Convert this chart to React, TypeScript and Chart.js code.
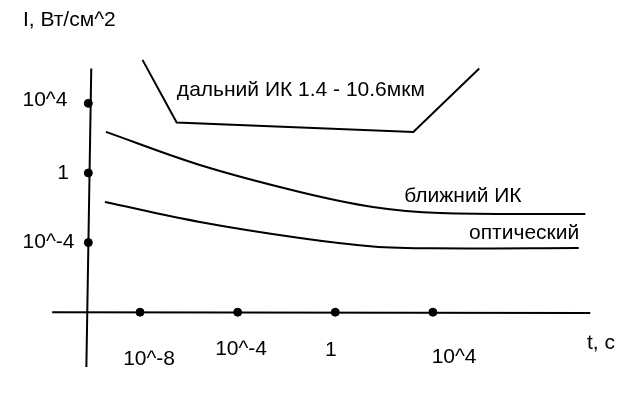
import React, { useEffect, useRef } from "react";
import { Chart, registerables } from "chart.js";

Chart.register(...registerables);

// Axis units: x = log10(t, c), y = log10(I, Вт/см^2)
const xTickValues = [-8, -4, 0, 4];
const xTickLabels = ["10^-8", "10^-4", "1", "10^4"];
const xTickLabelPos = [
  { x: -7.63, y: -10.69 },
  { x: -3.86, y: -10.11 },
  { x: -0.18, y: -10.17 },
  { x: 4.87, y: -10.57 },
];

const yTickValues = [4, 0, -4];
const yTickLabels = ["10^4", "1", "10^-4"];
const yTickLabelPos = [
  { x: -11.9, y: 4.2 },
  { x: -11.15, y: 0.0 },
  { x: -11.75, y: -4.0 },
];

const xAxisLine = [
  { x: -11.6, y: -8.0 },
  { x: 10.45, y: -8.05 },
];
const yAxisLine = [
  { x: -10.0, y: 6.0 },
  { x: -10.2, y: -11.15 },
];
const yAxisDotX = -10.12;
const xAxisDotY = -8.0;

const farIR = [
  { x: -7.9, y: 6.5 },
  { x: -6.5, y: 2.9 },
  { x: 3.2, y: 2.35 },
  { x: 5.9, y: 6.0 },
];

const nearIR = [
  { x: -9.4, y: 2.36 },
  { x: -5.55, y: 0.46 },
  { x: -1.45, y: -1.09 },
  { x: 1.54, y: -1.95 },
  { x: 4.29, y: -2.3 },
  { x: 10.25, y: -2.36 },
];

const optical = [
  { x: -9.44, y: -1.67 },
  { x: -5.55, y: -2.82 },
  { x: -1.45, y: -3.74 },
  { x: 1.54, y: -4.22 },
  { x: 4.0, y: -4.33 },
  { x: 9.98, y: -4.31 },
];

const textLabels = [
  { text: "I, Вт/см^2", x: -10.9, y: 8.79 },
  { text: "t, c", x: 10.89, y: -9.77 },
  { text: "дальний ИК 1.4 - 10.6мкм", x: -1.41, y: 4.77 },
  { text: "ближний ИК", x: 5.23, y: -1.32 },
  { text: "оптический", x: 7.74, y: -3.45 },
];

const FONT = '21px "Liberation Sans", Arial, sans-serif';

const labelPlugin = {
  id: "labels",
  afterDatasetsDraw(chart: any) {
    const ctx = chart.ctx;
    const xs = chart.scales.x;
    const ys = chart.scales.y;
    ctx.save();
    ctx.fillStyle = "#000";
    ctx.font = FONT;
    ctx.textAlign = "center";
    ctx.textBaseline = "middle";
    const all = [
      ...textLabels,
      ...xTickLabels.map((t, i) => ({ text: t, ...xTickLabelPos[i] })),
      ...yTickLabels.map((t, i) => ({ text: t, ...yTickLabelPos[i] })),
    ];
    for (const l of all) {
      ctx.fillText(l.text, xs.getPixelForValue(l.x), ys.getPixelForValue(l.y));
    }
    ctx.restore();
  },
};

export default function App() {
  const ref = useRef<HTMLCanvasElement | null>(null);
  useEffect(() => {
    if (!ref.current) return;
    const line = (data: any[], tension = 0) => ({
      data,
      showLine: true,
      borderColor: "#000",
      borderWidth: 2,
      pointRadius: 0,
      tension,
    });
    const chart = new Chart(ref.current, {
      type: "scatter",
      data: {
        datasets: [
          line(xAxisLine),
          line(yAxisLine),
          line(farIR),
          line(nearIR, 0.35),
          line(optical, 0.35),
          {
            data: xTickValues.map((v) => ({ x: v, y: xAxisDotY })),
            showLine: false,
            pointRadius: 4,
            backgroundColor: "#000",
            borderColor: "#000",
          },
          {
            data: yTickValues.map((v) => ({ x: yAxisDotX, y: v })),
            showLine: false,
            pointRadius: 4,
            backgroundColor: "#000",
            borderColor: "#000",
          },
        ] as any,
      },
      options: {
        animation: false,
        responsive: false,
        layout: { padding: 0, autoPadding: false },
        plugins: { legend: { display: false }, tooltip: { enabled: false } },
        scales: {
          x: { type: "linear", min: -13.74, max: 12.53, display: false },
          y: { type: "linear", min: -13.39, max: 9.94, display: false },
        },
      },
      plugins: [labelPlugin],
    });
    return () => chart.destroy();
  }, []);
  return (
    <div style={{ position: "fixed", left: 0, top: 0, width: 641, height: 406, background: "#fff" }}>
      <canvas ref={ref} width={641} height={406} />
    </div>
  );
}
